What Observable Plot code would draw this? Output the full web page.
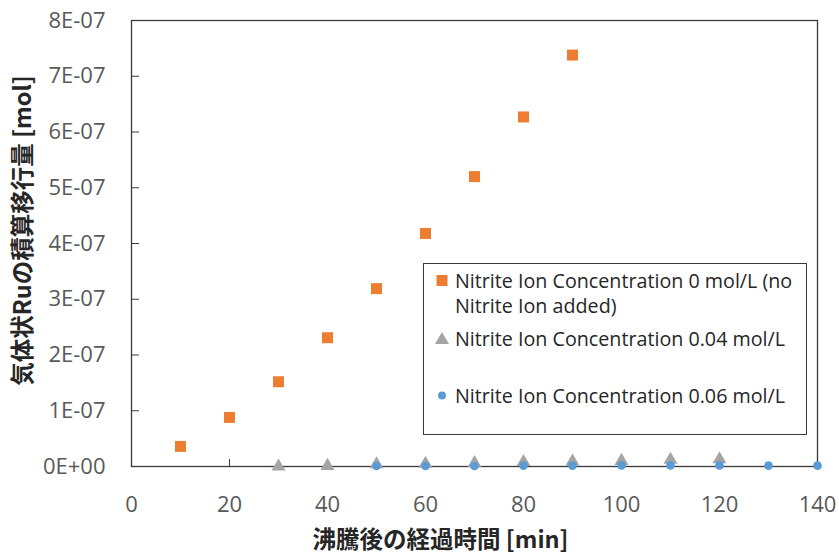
<!DOCTYPE html>
<html><head><meta charset="utf-8">
<script src="https://cdn.jsdelivr.net/npm/d3@7"></script>
<script src="https://cdn.jsdelivr.net/npm/@observablehq/plot@0.6"></script>
<style>
body{margin:0;background:#fff;}
#wrap{position:relative;width:839px;height:555px;}
#legend{position:absolute;left:423px;top:263px;width:382px;height:170px;border:1px solid #3a3a3a;background:#fff;font-family:"Open Sans";font-size:19.7px;color:#262626;}
.row{position:absolute;left:0;width:380px;}
.row svg{position:absolute;left:8px;}
.row .lab{position:absolute;left:31px;width:350px;line-height:25px;white-space:normal;}
</style>
</head><body>
<div id="wrap"><div id="legend"></div></div>
<script>
// ---- data ----
const xTicks = [0, 20, 40, 60, 80, 100, 120, 140];
const yTicks = [0, 1e-7, 2e-7, 3e-7, 4e-7, 5e-7, 6e-7, 7e-7, 8e-7];

const seriesNames = [
  "Nitrite Ion Concentration 0 mol/L (no Nitrite Ion added)",
  "Nitrite Ion Concentration 0.04 mol/L",
  "Nitrite Ion Concentration 0.06 mol/L"
];
const seriesColors = ["#ED7D31", "#A5A5A5", "#5B9BD5"];
const seriesSymbols = ["square", "triangle", "circle"];
const seriesRadius = [6.2, 5.2, 4.3];

const time0 = [10, 20, 30, 40, 50, 60, 70, 80, 90];
const val0 = [3.6e-8, 8.8e-8, 1.52e-7, 2.31e-7, 3.19e-7, 4.18e-7, 5.2e-7, 6.27e-7, 7.38e-7];

const time004 = [30, 40, 50, 60, 70, 80, 90, 100, 110, 120];
const val004 = [0, 1e-9, 4e-9, 5e-9, 6e-9, 8e-9, 9e-9, 1.0e-8, 1.2e-8, 1.3e-8];

const time006 = [50, 60, 70, 80, 90, 100, 110, 120, 130, 140];
const val006 = [1e-9, 1e-9, 1e-9, 1.5e-9, 1.5e-9, 2e-9, 2e-9, 2e-9, 1.5e-9, 1.5e-9];

const xTitle = "沸騰後の経過時間 [min]";
const yTitle = "気体状Ruの積算移行量 [mol]";

// ---- build ----
const times = [time0, time004, time006];
const vals = [val0, val004, val006];
const tables = times.map((ts, i) => ts.map((t, j) => ({t, v: vals[i][j]})));

function excelSci(d) {
  if (d === 0) return "0E+00";
  const e = Math.floor(Math.log10(Math.abs(d)) + 1e-9);
  const m = Math.round(d / Math.pow(10, e));
  return m + "E" + (e < 0 ? "-" : "+") + String(Math.abs(e)).padStart(2, "0");
}

const chart = Plot.plot({
  width: 839, height: 555,
  marginLeft: 131, marginRight: 22, marginTop: 20, marginBottom: 89,
  style: {fontFamily: "Open Sans", fontSize: "22px", color: "#595959", background: "transparent"},
  x: {domain: [0, 140]},
  y: {domain: [0, 8e-7]},
  marks: [
    Plot.frame({stroke: "#3a3a3a", strokeWidth: 1.3}),
    Plot.axisX({ticks: xTicks, tickSize: -7, tickPadding: 37, label: null, stroke: "#3a3a3a", fill: "#595959"}),
    Plot.axisY({ticks: yTicks, tickSize: -8, tickPadding: 34, tickFormat: excelSci, label: null, stroke: "#3a3a3a", fill: "#595959"}),
    ...tables.map((tb, i) => Plot.dot(tb, {x: "t", y: "v", symbol: seriesSymbols[i], fill: seriesColors[i], r: seriesRadius[i], stroke: "none"})),
    Plot.text([xTitle], {text: d => d, frameAnchor: "bottom", lineAnchor: "middle", textAnchor: "middle", dy: 74, dx: -34, fontWeight: "bold", fontSize: 23.5, fontFamily: "Noto Sans CJK JP", fill: "#262626"}),
    Plot.text([yTitle], {text: d => d, frameAnchor: "left", lineAnchor: "middle", textAnchor: "middle", rotate: -90, dx: -108, dy: -13, fontWeight: "bold", fontSize: 23.5, fontFamily: "Noto Sans CJK JP", fill: "#262626", style: "letter-spacing:0.5px"})
  ]
});
document.getElementById("wrap").prepend(chart);

// ---- legend ----
const legend = document.getElementById("legend");
const rowTops = [4, 62, 119];
seriesNames.forEach((name, i) => {
  const row = document.createElement("div");
  row.className = "row";
  row.style.top = rowTops[i] + "px";
  const sym = d3.symbol(
    seriesSymbols[i] === "square" ? d3.symbolSquare : seriesSymbols[i] === "triangle" ? d3.symbolTriangle : d3.symbolCircle,
    Math.PI * seriesRadius[i] * seriesRadius[i] * (seriesSymbols[i] === "circle" ? 0.85 : 1)
  )();
  row.innerHTML = `<svg width="20" height="25" style="top:0"><path d="${sym}" transform="translate(10,${seriesSymbols[i]==='triangle'?14:12.5})" fill="${seriesColors[i]}"/></svg><div class="lab">${name}</div>`;
  legend.appendChild(row);
});
</script>
</body></html>
